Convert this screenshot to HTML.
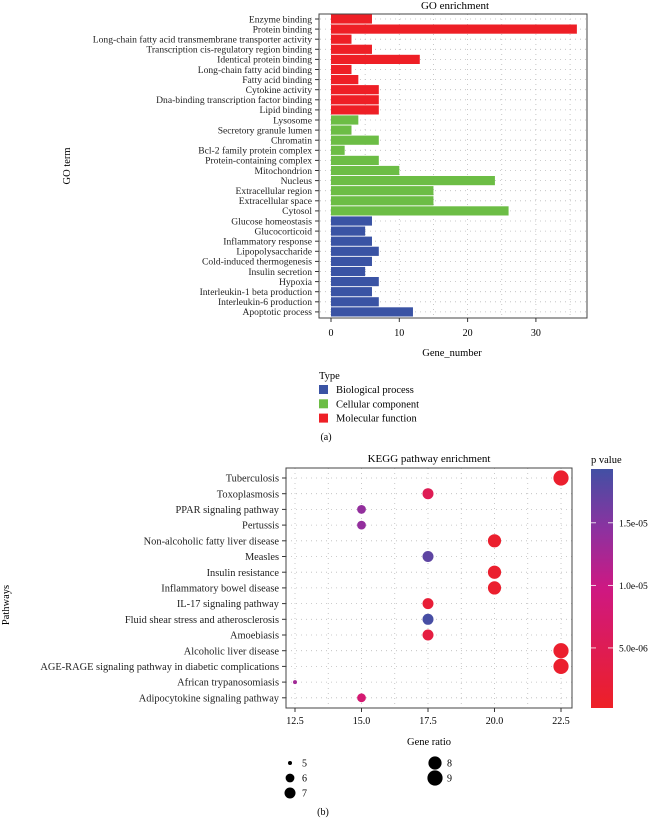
<!DOCTYPE html>
<html><head><meta charset="utf-8">
<style>
body{margin:0;background:#fff;width:649px;height:819px;overflow:hidden}
svg{display:block;font-family:"Liberation Serif",serif}
</style></head>
<body>
<svg id="s" width="649" height="819"></svg>
<script>
const goTerms=["Enzyme binding","Protein binding","Long-chain fatty acid transmembrane transporter activity","Transcription cis-regulatory region binding","Identical protein binding","Long-chain fatty acid binding","Fatty acid binding","Cytokine activity","Dna-binding transcription factor binding","Lipid binding","Lysosome","Secretory granule lumen","Chromatin","Bcl-2 family protein complex","Protein-containing complex","Mitochondrion","Nucleus","Extracellular region","Extracellular space","Cytosol","Glucose homeostasis","Glucocorticoid","Inflammatory response","Lipopolysaccharide","Cold-induced thermogenesis","Insulin secretion","Hypoxia","Interleukin-1 beta production","Interleukin-6 production","Apoptotic process"];
const goCounts=[6,36,3,6,13,3,4,7,7,7,4,3,7,2,7,10,24,15,15,26,6,5,6,7,6,5,7,6,7,12];
const goTypes=["MF","MF","MF","MF","MF","MF","MF","MF","MF","MF","CC","CC","CC","CC","CC","CC","CC","CC","CC","CC","BP","BP","BP","BP","BP","BP","BP","BP","BP","BP"];
const goTicks=[0,10,20,30];
const keggPaths=["Tuberculosis","Toxoplasmosis","PPAR signaling pathway","Pertussis","Non-alcoholic fatty liver disease","Measles","Insulin resistance","Inflammatory bowel disease","IL-17 signaling pathway","Fluid shear stress and atherosclerosis","Amoebiasis","Alcoholic liver disease","AGE-RAGE signaling pathway in diabetic complications","African trypanosomiasis","Adipocytokine signaling pathway"];
const keggRatio=[22.5,17.5,15,15,20,17.5,20,20,17.5,17.5,17.5,22.5,22.5,12.5,15];
const keggCount=[9,7,6,6,8,7,8,8,7,7,7,9,9,5,6];
const keggP=[1e-6,5e-6,1.4e-5,1.4e-5,1e-6,1.75e-5,1e-6,1e-6,2e-6,1.9e-5,3e-6,1e-6,1e-6,1.3e-5,8e-6];
const keggTicks=[12.5,15,17.5,20,22.5];
const pTicks=[5e-6,1e-5,1.5e-5];
const pTickLabels=["5.0e-06","1.0e-05","1.5e-05"];
const sizeLegend=[5,6,7,8,9];

const NS="http://www.w3.org/2000/svg";
const svg=document.getElementById('s');
function el(t,a,txt){const e=document.createElementNS(NS,t);for(const k in a)e.setAttribute(k,a[k]);if(txt!=null)e.textContent=txt;svg.appendChild(e);return e;}
const typeCol={BP:"#3a53a4",CC:"#6cbd45",MF:"#ee1f26"};

// ---- GO chart
const gx=v=>331+v*6.83;
const gy=i=>19+i*10.1;
let t=el('text',{x:455,y:9,'font-size':11,'text-anchor':'middle'},"GO enrichment");


for(let v=0;v<=35;v+=5){el('line',{x1:gx(v),x2:gx(v),y1:14,y2:318,stroke:'#bbb','stroke-dasharray':'1 4','stroke-width':0.8});}
goTerms.forEach((n,i)=>{
  el('line',{x1:320,x2:587,y1:gy(i),y2:gy(i),stroke:'#bbb','stroke-dasharray':'1 4','stroke-width':0.8});
  const b=el('rect',{x:gx(0),y:gy(i)-4.6,width:gx(goCounts[i])-gx(0),height:9.2,fill:typeCol[goTypes[i]]});
  
  
  el('line',{x1:315,x2:319,y1:gy(i),y2:gy(i),stroke:'#333'});
  const l=el('text',{x:312,y:gy(i)+3.3,'font-size':9.6,'text-anchor':'end',fill:'#222'},n);
  
  
});
el('rect',{x:319,y:14,width:268,height:304,fill:'none',stroke:'#444','stroke-width':1});
goTicks.forEach(v=>{el('line',{x1:gx(v),x2:gx(v),y1:318,y2:322,stroke:'#333'});
  const l=el('text',{x:gx(v),y:336,'font-size':10,'text-anchor':'middle'},v);
  
  });
t=el('text',{x:452,y:356,'font-size':10.5,'text-anchor':'middle'},"Gene_number");


t=el('text',{x:0,y:0,'font-size':10.5,'text-anchor':'middle',transform:'translate(70,166) rotate(-90)'},"GO term");


t=el('text',{x:319,y:379,'font-size':10.5},"Type");


[["BP","Biological process"],["CC","Cellular component"],["MF","Molecular function"]].forEach((d,i)=>{
  const r=el('rect',{x:319,y:385+i*14.3,width:9,height:9,fill:typeCol[d[0]]});
  
  
  const l=el('text',{x:336,y:393+i*14.3,'font-size':10.5},d[1]);
  
  
});
t=el('text',{x:326,y:440,'font-size':10,'text-anchor':'middle'},"(a)");



// ---- KEGG chart
const kx=v=>295+(v-12.5)*26.6;
const ky=i=>478+i*15.7;
const pMin=2e-7,pMax=1.93e-5;
function pCol(p){const f=Math.max(0,Math.min(1,(p-pMin)/(pMax-pMin)));
  const stops=[[0,[238,32,38]],[0.5,[206,24,130]],[0.75,[140,50,160]],[1,[66,80,164]]];
  for(let i=1;i<stops.length;i++){if(f<=stops[i][0]){const a=stops[i-1],b=stops[i];const u=(f-a[0])/(b[0]-a[0]);
   return 'rgb('+a[1].map((c,j)=>Math.round(c+(b[1][j]-c)*u)).join(',')+')';}}return 'rgb(66,80,164)';}
const rad=c=>({5:2,6:4.4,7:5.5,8:6.6,9:7.6})[c]||c;
t=el('text',{x:429,y:462,'font-size':11,'text-anchor':'middle'},"KEGG pathway enrichment");


for(let v=12.5;v<=22.5;v+=1.25){el('line',{x1:kx(v),x2:kx(v),y1:468,y2:708,stroke:'#bbb','stroke-dasharray':'1 4','stroke-width':0.8});}
keggPaths.forEach((n,i)=>{
  el('line',{x1:286,x2:572,y1:ky(i),y2:ky(i),stroke:'#bbb','stroke-dasharray':'1 4','stroke-width':0.8});
  el('line',{x1:282,x2:286,y1:ky(i),y2:ky(i),stroke:'#333'});
  const l=el('text',{x:279,y:ky(i)+3.6,'font-size':10.4,'text-anchor':'end',fill:'#222'},n);
  
  
  const c=el('circle',{cx:kx(keggRatio[i]),cy:ky(i),r:rad(keggCount[i]),fill:pCol(keggP[i])});
  
  
});
el('rect',{x:286,y:468,width:286,height:240,fill:'none',stroke:'#444','stroke-width':1});
keggTicks.forEach(v=>{el('line',{x1:kx(v),x2:kx(v),y1:708,y2:712,stroke:'#333'});
  const l=el('text',{x:kx(v),y:724,'font-size':10,'text-anchor':'middle'},v.toFixed(1));
  
  });
t=el('text',{x:429,y:745,'font-size':10.5,'text-anchor':'middle'},"Gene ratio");


t=el('text',{x:0,y:0,'font-size':10.5,'text-anchor':'middle',transform:'translate(9,605) rotate(-90)'},"Pathways");


// colorbar
const defs=el('defs',{});
const lg=document.createElementNS(NS,'linearGradient');lg.setAttribute('id','cb');lg.setAttribute('x1',0);lg.setAttribute('y1',1);lg.setAttribute('x2',0);lg.setAttribute('y2',0);
[[0,'rgb(238,32,38)'],[0.5,'rgb(206,24,130)'],[0.75,'rgb(140,50,160)'],[1,'rgb(66,80,164)']].forEach(s=>{const st=document.createElementNS(NS,'stop');st.setAttribute('offset',s[0]);st.setAttribute('stop-color',s[1]);lg.appendChild(st);});
defs.appendChild(lg);
const cbTop=469,cbBot=708;
const cy=p=>cbBot-(p-pMin)/(pMax-pMin)*(cbBot-cbTop);
t=el('rect',{x:591,y:cbTop,width:22,height:cbBot-cbTop,fill:'url(#cb)'});


t=el('text',{x:591,y:463,'font-size':10.5},"p value");


pTicks.forEach((p,i)=>{
  el('line',{x1:591,x2:596,y1:cy(p),y2:cy(p),stroke:'#fff','stroke-width':0.8});
  el('line',{x1:608,x2:613,y1:cy(p),y2:cy(p),stroke:'#fff','stroke-width':0.8});
  const l=el('text',{x:619,y:cy(p)+3.5,'font-size':9.5},pTickLabels[i]);
  
  
});
// size legend
sizeLegend.forEach((s,i)=>{
  const col=i<3?0:1,row=i<3?i:i-3;
  const x=col?435:290,y=763+row*15;
  const c=el('circle',{cx:x,cy:y,r:rad(s),fill:'#000'});
  
  
  const l=el('text',{x:x+12,y:y+3.5,'font-size':10},s);
  
  
});
t=el('text',{x:323,y:815,'font-size':10,'text-anchor':'middle'},"(b)");


</script>
</body></html>
